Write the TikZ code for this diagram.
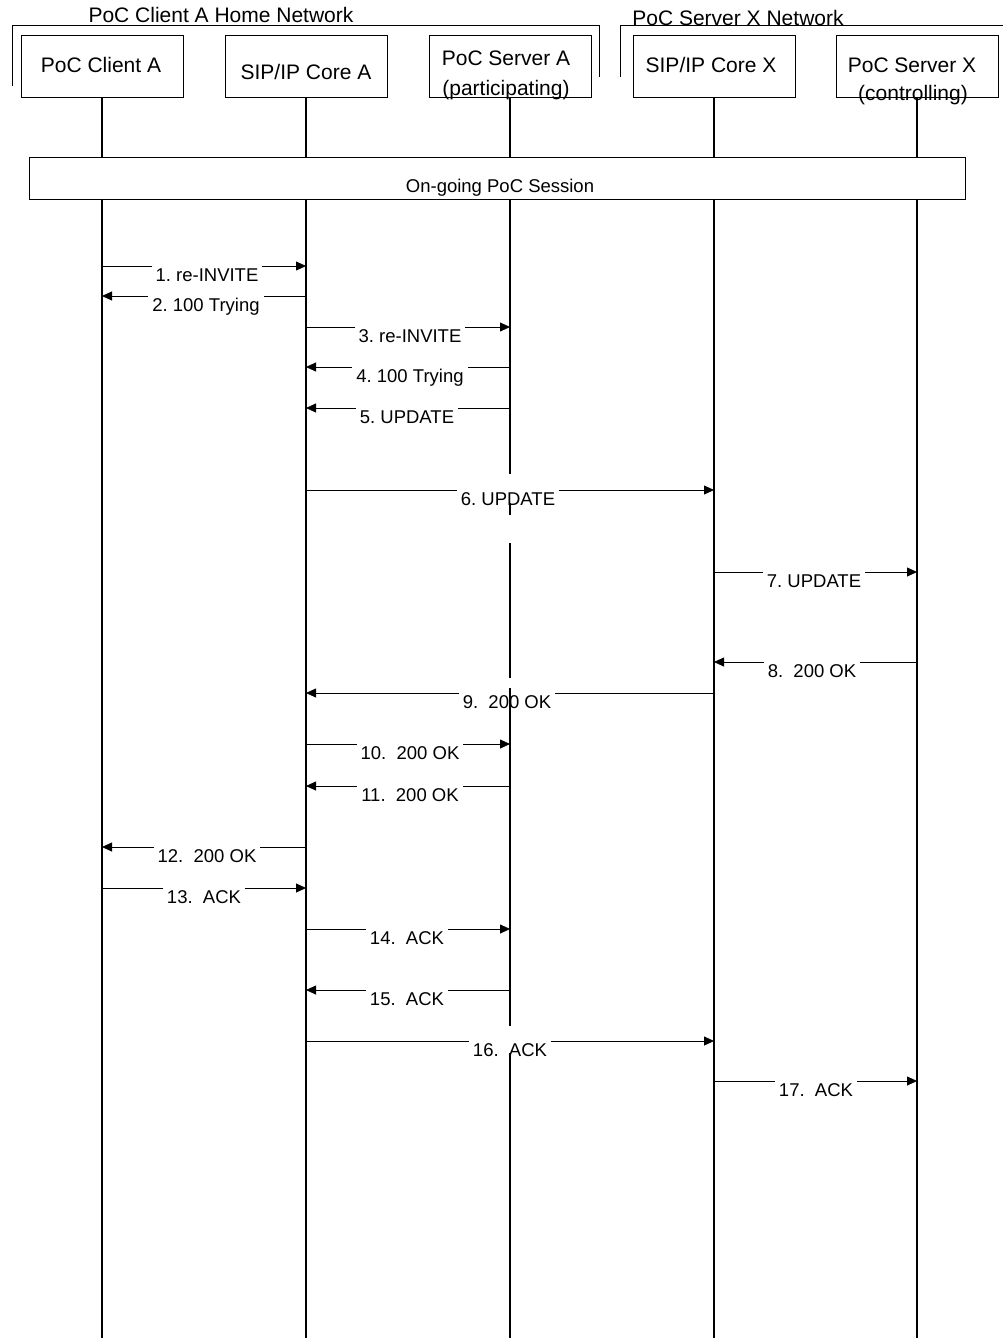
\documentclass[tikz,border=0pt]{standalone}
\usepackage{fontspec}
\setmainfont{Liberation Sans}
\usetikzlibrary{arrows.meta}
\begin{document}
\begin{tikzpicture}[x=1pt,y=-1pt,
  ent/.style={draw,line width=1pt,minimum width=162pt,minimum height=61pt,inner sep=0pt},
  htext/.style={font=\fontsize{21}{24}\selectfont\frenchspacing,anchor=base,inner sep=0pt},
  life/.style={line width=1.2pt},
  msg/.style={line width=0.8pt,-{Triangle[length=10pt,width=9pt]}},
  mlab/.style={font=\fontsize{18.5}{22}\selectfont\frenchspacing,anchor=base,fill=white,inner xsep=4pt,inner ysep=0pt,text height=16.5pt,text depth=4pt},
  brk/.style={line width=1pt}]
\useasboundingbox (0,0) rectangle (1003,1338);
% network brackets
\coordinate (nl1) at (12,86);
\coordinate (nl2) at (12,26);
\coordinate (nl3) at (599,26);
\coordinate (nl4) at (599,77);
\coordinate (nr1) at (620,77);
\coordinate (nr2) at (620,26);
\coordinate (nr3) at (1003,26);
\draw[brk] (nl1) -- (nl2) -- (nl3) -- (nl4);
\draw[brk] (nr1) -- (nr2) -- (nr3);
\node[htext] (netA) at (221,23) {PoC Client A Home Network};
\node[htext] (netX) at (738,26) {PoC Server X Network};
% entities
\node[ent] (ca) at (102,66.5) {};
\node[ent] (cora) at (306,66.5) {};
\node[ent] (sa) at (510,66.5) {};
\node[ent] (corx) at (714,66.5) {};
\node[ent] (sx) at (917,66.5) {};
\node[htext] (ca-t) at (101,72) {PoC Client A};
\node[htext] (cora-t) at (306,80) {SIP/IP Core A};
\node[htext] (sa-t1) at (506,66) {PoC Server A};
\node[htext] (sa-t2) at (506,95) {(participating)};
\node[htext] (corx-t) at (711,72) {SIP/IP Core X};
\node[htext] (sx-t1) at (912,73) {PoC Server X};
\node[htext] (sx-t2) at (913,100) {(controlling)};
% session
\node[draw,line width=1pt,minimum width=936pt,minimum height=42pt,inner sep=0pt] (sess) at (497,178) {};
\node[font=\fontsize{18.5}{22}\selectfont,anchor=base,inner sep=0pt] (sess-t) at (500,192) {On-going PoC Session};
% message rows
\coordinate (m1) at (0,266);
\coordinate (m2) at (0,296);
\coordinate (m3) at (0,327);
\coordinate (m4) at (0,367);
\coordinate (m5) at (0,408);
\coordinate (m6) at (0,490);
\coordinate (m7) at (0,572);
\coordinate (m8) at (0,662);
\coordinate (m9) at (0,693);
\coordinate (m10) at (0,744);
\coordinate (m11) at (0,786);
\coordinate (m12) at (0,847);
\coordinate (m13) at (0,888);
\coordinate (m14) at (0,929);
\coordinate (m15) at (0,990);
\coordinate (m16) at (0,1041);
\coordinate (m17) at (0,1081);
\draw[msg] (ca |- m1) -- (cora |- m1);
\draw[msg] (cora |- m2) -- (ca |- m2);
\draw[msg] (cora |- m3) -- (sa |- m3);
\draw[msg] (sa |- m4) -- (cora |- m4);
\draw[msg] (sa |- m5) -- (cora |- m5);
\draw[msg] (cora |- m6) -- (corx |- m6);
\draw[msg] (corx |- m7) -- (sx |- m7);
\draw[msg] (sx |- m8) -- (corx |- m8);
\draw[msg] (corx |- m9) -- (cora |- m9);
\draw[msg] (cora |- m10) -- (sa |- m10);
\draw[msg] (sa |- m11) -- (cora |- m11);
\draw[msg] (cora |- m12) -- (ca |- m12);
\draw[msg] (ca |- m13) -- (cora |- m13);
\draw[msg] (cora |- m14) -- (sa |- m14);
\draw[msg] (sa |- m15) -- (cora |- m15);
\draw[msg] (cora |- m16) -- (corx |- m16);
\draw[msg] (corx |- m17) -- (sx |- m17);
% labels
\node[mlab] (l1) at (207,281) {1. re-INVITE};
\node[mlab] (l2) at (206,311) {2. 100 Trying};
\node[mlab] (l3) at (410,342) {3. re-INVITE};
\node[mlab] (l4) at (410,382) {4. 100 Trying};
\node[mlab] (l5) at (407,423) {5. UPDATE};
\node[mlab] (l6) at (508,505) {6. UPDATE};
\node[mlab] (l7) at (814,587) {7. UPDATE};
\node[mlab] (l8) at (812,677) {8.\ \ 200 OK};
\node[mlab] (l9) at (507,708) {9.\ \ 200 OK};
\node[mlab] (l10) at (410,759) {10.\ \ 200 OK};
\node[mlab] (l11) at (410,801) {11.\ \ 200 OK};
\node[mlab] (l12) at (207,862) {12.\ \ 200 OK};
\node[mlab] (l13) at (204,903) {13.\ \ ACK};
\node[mlab] (l14) at (407,944) {14.\ \ ACK};
\node[mlab] (l15) at (407,1005) {15.\ \ ACK};
\node[mlab] (l16) at (510,1056) {16.\ \ ACK};
\node[mlab] (l17) at (816,1096) {17.\ \ ACK};
% lifelines
\coordinate (bot) at (0,1338);
\foreach \e in {ca,cora,corx,sx}{
  \draw[life] (\e.south) -- (\e |- sess.north);
  \draw[life] (\e |- sess.south) -- (\e |- bot);
}
\draw[life] (sa.south) -- (sa |- sess.north);
\draw[life] (sa |- sess.south) -- (sa |- 0,474);
\draw[life] (sa |- 0,503) -- (sa |- 0,515);
\draw[life] (sa |- 0,543) -- (sa |- 0,678);
\draw[life] (sa |- 0,688) -- (sa |- 0,1026);
\draw[life] (sa |- 0,1053) -- (sa |- bot);
\end{tikzpicture}
\end{document}
